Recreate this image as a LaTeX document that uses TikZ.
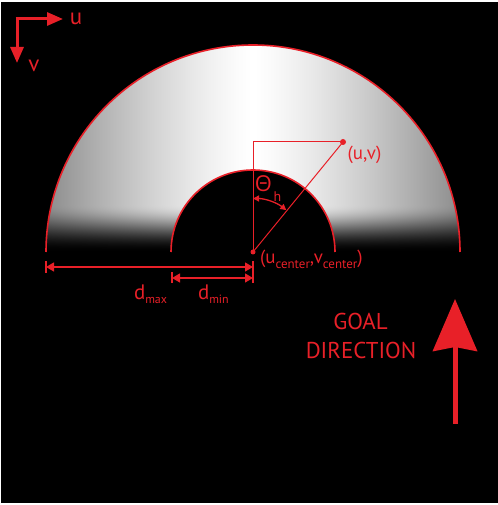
\documentclass[tikz,border=0pt]{standalone}
\usepackage{fontspec}
\setmainfont{PT Sans}
\newfontfamily\grk{Open Sans}
\usetikzlibrary{arrows.meta}
\definecolor{rd}{RGB}{232,32,40}
\pgfdeclarefunctionalshading{ringshade}{\pgfpoint{-207bp}{0bp}}{\pgfpoint{207bp}{207bp}}{}{exch abs 207 div 1.3 exp 0.45 mul 1 exch sub exch 48 div dup 1 gt {pop 1} if dup dup mul exch 2 mul 3 exch sub mul mul dup dup}
\tikzset{
  redline/.style={draw=rd, line width=1bp},
  ringline/.style={draw=rd, line width=1.6bp},
  dimline/.style={draw=rd, line width=1.3bp, {Triangle[length=8bp,width=9bp]}-{Triangle[length=8bp,width=9bp]}},
  tickline/.style={draw=rd, line width=1.5bp},
  axisarrow/.style={draw=rd, line width=3bp, -{Triangle[length=16bp,width=13bp]}},
  anglearrow/.style={draw=rd, line width=1.3bp, {Triangle[length=6bp,width=6bp]}-{Triangle[length=6bp,width=6bp]}},
  goalarrow/.style={draw=rd, line width=5bp, -{Stealth[length=52bp,width=44bp,inset=4bp]}},
  lbl/.style={text=rd, inner sep=0, outer sep=0},
  dot/.style={circle, fill=rd, inner sep=0, outer sep=0},
}
\begin{document}
\begin{tikzpicture}[x=1bp,y=1bp]
\useasboundingbox (0,0) rectangle (498,505);
\fill[white] (0,0) rectangle (498,505);
\fill[black] (1,2) rectangle (498,503);
% key points
\coordinate (C) at (253,253);
\coordinate (P) at (343,363);
\coordinate (T) at (253,363);
\coordinate (OL) at (46,253);
\coordinate (OR) at (460,253);
\coordinate (IL) at (171,253);
\coordinate (IR) at (335,253);
% shaded ring
\begin{scope}
\clip (OL) arc[start angle=180,end angle=0,radius=207] -- (IR) arc[start angle=0,end angle=180,radius=82] -- cycle;
\node[inner sep=0,outer sep=0,anchor=south] (ring) at (C) {\pgfuseshading{ringshade}};
\end{scope}
\draw[ringline] (OL) arc[start angle=180,end angle=0,radius=207];
\draw[ringline] (IL) arc[start angle=180,end angle=0,radius=82];
% heading construction
\draw[redline] (C) -- (T) -- (P);
\draw[redline] (C) -- (P);
\node[dot, minimum size=5bp] (Cdot) at (C) {};
\node[dot, minimum size=6bp] (Pdot) at (P) {};
\coordinate (A1) at (253,306.5);
\draw[anglearrow] (A1) arc[start angle=90,end angle=51.5,radius=53.5];
\node[lbl, font=\fontsize{19}{19}\selectfont] (uv) at (364.5,350) {(u,v)};
\node[lbl, font=\grk\fontsize{22}{22}\selectfont] (th) at (263.5,321) {Θ};
\node[lbl, font=\fontsize{14}{14}\selectfont] (h) at (277.5,308) {h};
\node[lbl, anchor=base west, font=\fontsize{19}{19}\selectfont] (uc) at (260,241)
  {(u\raisebox{-5bp}{\fontsize{13}{13}\selectfont center},v\raisebox{-5bp}{\fontsize{13}{13}\selectfont center})};
% dimensions
\coordinate (DmaxL) at (46,238);
\coordinate (DmaxR) at (253,238);
\coordinate (DminL) at (172,227);
\coordinate (DminR) at (253,227);
\coordinate (t1a) at (46,244);
\coordinate (t1b) at (46,232);
\coordinate (t2a) at (253,244);
\coordinate (t2b) at (253,222);
\coordinate (t3a) at (172,233);
\coordinate (t3b) at (172,222);
\draw[tickline] (t1a) -- (t1b);
\draw[tickline] (t2a) -- (t2b);
\draw[tickline] (t3a) -- (t3b);
\draw[dimline] (DmaxL) -- (DmaxR);
\draw[dimline] (DminL) -- (DminR);
\node[lbl, anchor=base west, font=\fontsize{21}{21}\selectfont] (dmax) at (134,205)
  {d\raisebox{-4bp}{\fontsize{12}{12}\selectfont max}};
\node[lbl, anchor=base west, font=\fontsize{21}{21}\selectfont] (dmin) at (198,205)
  {d\raisebox{-4bp}{\fontsize{12}{12}\selectfont min}};
% u v axes
\coordinate (Oh) at (15.5,486);
\coordinate (Ov) at (17,487.5);
\coordinate (ue) at (63,486);
\coordinate (ve) at (17,442);
\draw[axisarrow] (Oh) -- (ue);
\draw[axisarrow] (Ov) -- (ve);
\node[lbl, font=\fontsize{23}{23}\selectfont] (ulbl) at (76,486) {u};
\node[lbl, font=\fontsize{23}{23}\selectfont] (vlbl) at (34,439) {v};
% goal direction
\node[lbl, font=\fontsize{23}{23}\selectfont] (goal) at (360.5,184) {GOAL};
\node[lbl, font=\fontsize{23}{23}\selectfont] (dir) at (361,154.5) {DIRECTION};
\coordinate (gb) at (455,81);
\coordinate (gt) at (455,206);
\draw[goalarrow] (gb) -- (gt);
\end{tikzpicture}
\end{document}
